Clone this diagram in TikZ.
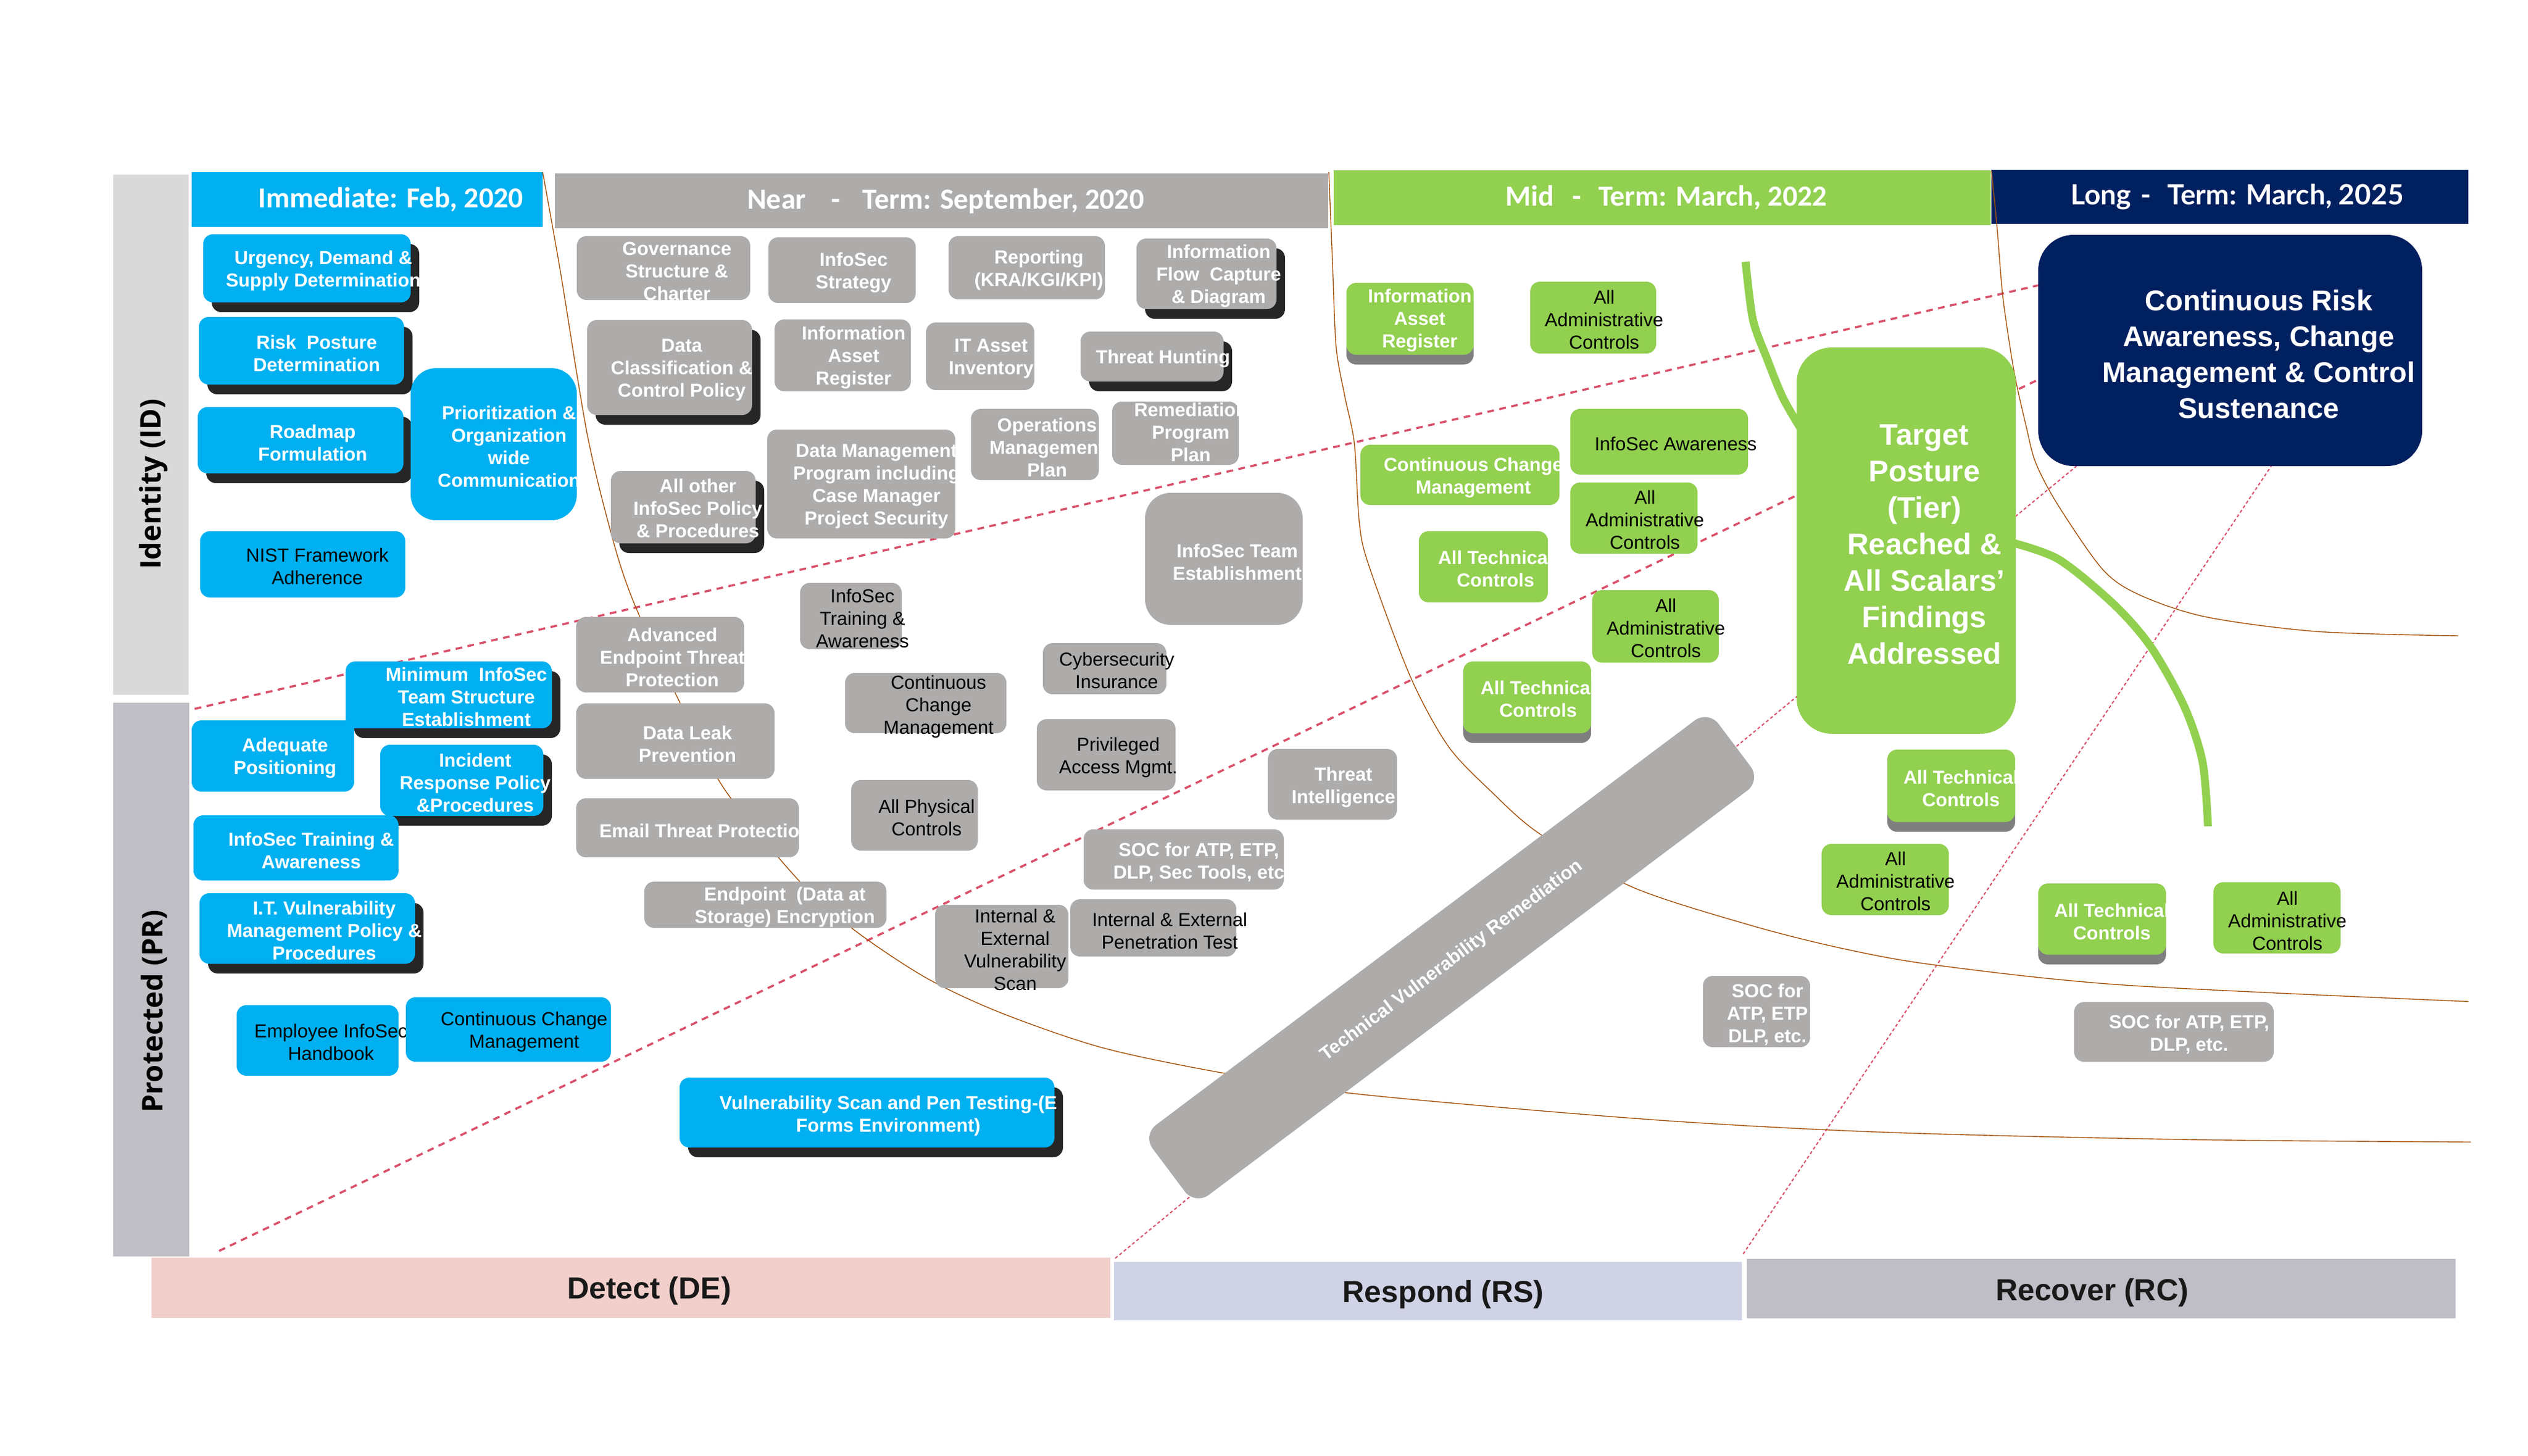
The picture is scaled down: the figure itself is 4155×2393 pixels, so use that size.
\documentclass[tikz,border=0pt]{standalone}
\usepackage{fontspec}
\setmainfont{Liberation Sans}
\newfontfamily\calib{Carlito}
\newfontfamily\latof{Lato}
\newfontfamily\opens{Open Sans}
\usetikzlibrary{calc,shadows}
\definecolor{cyanC}{HTML}{00B0F0}
\definecolor{grayC}{HTML}{AEABAB}
\definecolor{greenC}{HTML}{92D050}
\definecolor{navyC}{HTML}{002060}
\definecolor{idbar}{HTML}{D9D9D9}
\definecolor{prbar}{HTML}{BFBFC5}
\definecolor{debar}{HTML}{F2CFCB}
\definecolor{rsbar}{HTML}{D0D3E6}
\definecolor{rcbar}{HTML}{BFBEC6}
\definecolor{redD}{HTML}{D9506A}
\definecolor{brownL}{HTML}{A5520C}
\definecolor{shg}{HTML}{7F7F7F}
\newcommand\mybox[9]{%
  \node[#2, minimum width={(#5)-(#3)}, minimum height={(#6)-(#4)}] (#1) at ({((#3)+(#5))/2},{((#4)+(#6))/2}) {};
  \node[#7] (#1t) at ($(#1.center)+(#8)$) {#9};
}
\tikzset{
  bx/.style={inner sep=0pt, outer sep=0pt, rounded corners=16pt, draw=none},
  cy/.style={bx, fill=cyanC},
  gr/.style={bx, fill=grayC},
  gn/.style={bx, fill=greenC},
  nv/.style={bx, fill=navyC},
  sbar/.style={inner sep=0pt, outer sep=0pt, draw=none},
  rbig/.style={rounded corners=42pt},
  rhuge/.style={rounded corners=58pt},
  bsh/.style={general shadow={fill=black, fill opacity=0.85, shadow xshift=14pt, shadow yshift=-16pt}},
  gsh/.style={general shadow={fill=shg, shadow yshift=-16pt}},
  wt/.style={inner sep=0pt, align=center, text=white, font=\fontsize{31}{37}\selectfont\bfseries},
  bt/.style={inner sep=0pt, align=center, text=black, font=\fontsize{31}{37}\selectfont},
  wtb/.style={inner sep=0pt, align=center, text=white, font=\fontsize{49}{60}\selectfont\bfseries},
  wtc/.style={inner sep=0pt, align=center, text=white, font=\fontsize{47}{59}\selectfont\bfseries},
  ht/.style={inner sep=0pt, text=white, font=\calib\fontsize{48}{58}\selectfont\bfseries},
  lt/.style={inner sep=0pt, text=white, font=\latof\fontsize{46}{56}\selectfont\bfseries},
  axt/.style={inner sep=0pt, text=black, font=\opens\fontsize{47}{56}\selectfont\bfseries, rotate=90},
  bott/.style={inner sep=0pt, text=black!90, font=\fontsize{50}{60}\selectfont\bfseries},
  dashA/.style={draw=redD, line width=3.5pt, dash pattern=on 11pt off 9pt},
  dashC/.style={draw=redD, line width=2pt, dash pattern=on 5pt off 4pt},
  brw/.style={draw=brownL, line width=1.4pt},
  garc/.style={draw=greenC, line width=13pt},
}
\begin{document}
\begin{tikzpicture}[x=1pt,y=-1pt]
\useasboundingbox (0,0) rectangle (4155,2393);
\fill[white] (0,0) rectangle (4155,2393);

% side bars
\mybox{idb}{sbar,fill=idbar}{186}{287}{310}{1142}{axt}{4,81}{Identity (ID)}
\mybox{prb}{sbar,fill=prbar}{186}{1155}{311}{2065}{axt}{5,52}{Protected (PR)}

% bottom bars
\mybox{deb}{sbar,fill=debar}{249}{2067}{1825}{2166}{bott}{30,5}{Detect (DE)}
\mybox{rsb}{sbar,fill=rsbar}{1831}{2074}{2863}{2170}{bott}{25,6}{Respond (RS)}
\mybox{rcb}{sbar,fill=rcbar}{2871}{2069}{4036}{2167}{bott}{-15,7}{Recover (RC)}

% headers
\mybox{h1}{sbar,fill=cyanC}{315}{283}{892}{373}{ht}{39,0}{Immediate: Feb, 2020}
\mybox{h2}{sbar,fill=grayC}{912}{285}{2183}{375}{ht}{7,0}{Near\hspace{42pt}-\hspace{36pt}Term: September, 2020}
\mybox{h3}{sbar,fill=greenC}{2192}{280}{3272}{370}{ht}{7,0}{Mid\hspace{30pt}-\hspace{28pt}Term: March, 2022}
\mybox{h4}{sbar,fill=navyC}{3273}{279}{4057}{368}{lt}{12,0}{Long\hspace{16pt}-\hspace{26pt}Term: March, 2025}

% dashed guide lines
\coordinate (a1) at (320,1165); \coordinate (a2) at (3350,469);
\coordinate (b1) at (360,2056); \coordinate (b2) at (3350,624);
\coordinate (c1) at (1833,2068); \coordinate (c2) at (3413,766);
\coordinate (d1) at (2865,2061); \coordinate (d2) at (3733,766);
\draw[dashA] (a1) -- (a2);
\draw[dashA] (b1) -- (b2);
\draw[dashC] (c1) -- (c2);
\draw[dashC] (d1) -- (d2);

% brown curves
\draw[brw] plot[smooth] coordinates {(892,283) (920,440) (948,614) (966,718) (987,810) (1018,924) (1050,1010) (1120,1160) (1190,1296) (1310,1444) (1402,1527) (1522,1607) (1646,1665) (1812,1722) (2007,1763) (2231,1798) (2712,1840) (3100,1861) (3600,1873) (4061,1877)};
\draw[brw] plot[smooth] coordinates {(2184,283) (2190,430) (2196,570) (2210,650) (2226,729) (2234,857) (2249,927) (2318,1112) (2380,1226) (2450,1300) (2530,1370) (2683,1458) (2878,1521) (3029,1559) (3180,1586) (3491,1619) (4057,1646)};
\draw[brw] plot[smooth] coordinates {(3273,281) (3282,370) (3291,480) (3302,560) (3313,625) (3330,700) (3346,761) (3383,831) (3456,936) (3517,978) (3626,1014) (3809,1038) (4040,1045)};

% green arcs
\draw[garc] plot[smooth] coordinates {(2869,430) (2881,525) (2904,589) (2930,653) (2960,705)};
\draw[garc] plot[smooth] coordinates {(3300,890) (3383,919) (3474,993) (3535,1063) (3590,1161) (3620,1252) (3629,1358)};

% Identity boxes (immediate)
\mybox{urg}{cy,bsh}{334}{385}{675}{497}{wt}{27,4}{Urgency, Demand \&\\Supply Determination}
\mybox{risk}{cy,bsh}{327}{521}{664}{632}{wt}{25,4}{Risk\ \ Posture\\Determination}
\mybox{road}{cy,bsh}{325}{669}{663}{778}{wt}{20,4}{Roadmap\\Formulation}
\mybox{prio}{cy,rbig}{675}{605}{948}{855}{wt}{25,4}{Prioritization \&\\Organization\\wide\\Communication}
\mybox{nist}{cy}{329}{873}{666}{982}{bt}{24,3}{NIST Framework\\Adherence}

% Protect boxes (immediate)
\mybox{mini}{cy,bsh}{568}{1087}{907}{1197}{wt}{29,3}{Minimum\ \ InfoSec\\Team Structure\\Establishment}
\mybox{adeq}{cy}{315}{1184}{582}{1301}{wt}{20,4}{Adequate\\Positioning}
\mybox{inci}{cy,bsh}{625}{1224}{893}{1341}{wt}{22,4}{Incident\\Response Policy\\\&Procedures}
\mybox{train}{cy}{318}{1340}{655}{1447}{wt}{25,4}{InfoSec Training \&\\Awareness}
\mybox{itv}{cy,bsh}{328}{1468}{682}{1584}{wt}{28,3}{I.T. Vulnerability\\Management Policy \&\\Procedures}
\mybox{empl}{cy}{389}{1652}{655}{1768}{bt}{22,3}{Employee InfoSec\\Handbook}
\mybox{ccma}{cy}{667}{1639}{1004}{1745}{bt}{26,4}{Continuous Change\\Management}
\mybox{vsp}{cy,bsh}{1117}{1771}{1733}{1886}{wt}{35,5}{Vulnerability Scan and Pen Testing-(E\\Forms Environment)}

% Near term boxes
\mybox{gov}{gr}{948}{388}{1233}{493}{wt}{22,5}{Governance\\Structure \&\\Charter}
\mybox{strat}{gr}{1263}{390}{1505}{498}{wt}{19,4}{InfoSec\\Strategy}
\mybox{rep}{gr}{1559}{388}{1816}{492}{wt}{20,4}{Reporting\\(KRA/KGI/KPI)}
\mybox{flow}{gr,bsh}{1868}{392}{2098}{508}{wt}{20,4}{Information\\Flow\ \ Capture\\\& Diagram}
\mybox{dcl}{gr,bsh}{965}{526}{1236}{682}{wt}{20,4}{Data\\Classification \&\\Control Policy}
\mybox{iar}{gr}{1273}{525}{1497}{643}{wt}{18,4}{Information\\Asset\\Register}
\mybox{ita}{gr}{1522}{530}{1700}{641}{wt}{18,4}{IT Asset\\Inventory}
\mybox{hunt}{gr,bsh}{1776}{545}{2011}{627}{wt}{18,4}{Threat Hunting}
\mybox{rem}{gr}{1828}{660}{2036}{764}{wt}{25,-2}{Remediation\\Program\\Plan}
\mybox{ops}{gr}{1596}{672}{1806}{789}{wt}{20,5}{Operations\\Management\\Plan}
\mybox{dmp}{gr}{1261}{706}{1570}{885}{wt}{25,4}{Data Management\\Program including\\Case Manager\\Project Security}
\mybox{oth}{gr,bsh}{1004}{774}{1242}{893}{wt}{24,2}{All other\\InfoSec Policy\\\& Procedures}
\mybox{team}{gr,rbig}{1882}{810}{2141}{1027}{wt}{22,5}{InfoSec Team\\Establishment}
\mybox{trnb}{gr}{1315}{958}{1482}{1067}{bt}{19,4}{InfoSec\\Training \&\\Awareness}
\mybox{aetp}{gr}{947}{1014}{1223}{1138}{wt}{20,4}{Advanced\\Endpoint Threat\\Protection}
\mybox{dlp}{gr}{947}{1156}{1273}{1280}{wt}{20,5}{Data Leak\\Prevention}
\mybox{email}{gr}{947}{1312}{1313}{1409}{wt}{29,5}{Email Threat Protection}
\mybox{enc}{gr}{1059}{1449}{1457}{1525}{wt}{32,4}{Endpoint\ \ (Data at\\Storage) Encryption}
\mybox{ccmb}{gr}{1389}{1106}{1654}{1205}{bt}{21,6}{Continuous\\Change\\Management}
\mybox{phys}{gr}{1399}{1282}{1607}{1398}{bt}{20,4}{All Physical\\Controls}
\mybox{cyb}{gr}{1714}{1057}{1917}{1141}{bt}{20,3}{Cybersecurity\\Insurance}
\mybox{pam}{gr}{1704}{1182}{1932}{1299}{bt}{20,4}{Privileged\\Access Mgmt.}
\mybox{ti}{gr}{2084}{1231}{2296}{1347}{wt}{18,5}{Threat\\Intelligence}
\mybox{soca}{gr}{1781}{1363}{2110}{1462}{wt}{25,5}{SOC for ATP, ETP,\\DLP, Sec Tools, etc}
\mybox{ievs}{gr}{1537}{1487}{1756}{1624}{bt}{22,5}{Internal \&\\External\\Vulnerability\\Scan}
\mybox{iept}{gr}{1759}{1478}{2032}{1572}{bt}{27,5}{Internal \& External\\Penetration Test}

% Mid term boxes
\mybox{iarg}{gn,gsh}{2213}{465}{2422}{583}{wt}{16,3}{Information\\Asset\\Register}
\mybox{adma}{gn}{2515}{463}{2722}{581}{bt}{18,3}{All\\Administrative\\Controls}
\mybox{ccmg}{gn}{2236}{731}{2563}{830}{wt}{22,5}{Continuous Change\\Management}
\mybox{isa}{gn}{2581}{672}{2873}{780}{bt}{27,3}{InfoSec Awareness}
\mybox{admb}{gn}{2581}{793}{2790}{910}{bt}{18,3}{All\\Administrative\\Controls}
\mybox{teca}{gn}{2332}{873}{2544}{990}{wt}{20,3}{All Technical\\Controls}
\mybox{admc}{gn}{2617}{970}{2825}{1089}{bt}{17,3}{All\\Administrative\\Controls}
\mybox{tecb}{gn,gsh}{2405}{1087}{2615}{1205}{wt}{18,3}{All Technical\\Controls}
\mybox{tgt}{gn,rhuge}{2953}{571}{3313}{1206}{wtb}{30,6}{Target\\Posture\\(Tier)\\Reached \&\\All Scalars'\\Findings\\Addressed}

% Long term
\mybox{crs}{nv,rhuge}{3350}{386}{3981}{766}{wtc}{47,6}{Continuous Risk\\Awareness, Change\\Management \& Control\\Sustenance}

% right side boxes
\mybox{tecc}{gn,gsh}{3102}{1232}{3312}{1351}{wt}{16,4}{All Technical\\Controls}
\mybox{admd}{gn}{2994}{1387}{3203}{1504}{bt}{17,3}{All\\Administrative\\Controls}
\mybox{tecd}{gn,gsh}{3350}{1452}{3560}{1569}{wt}{16,4}{All Technical\\Controls}
\mybox{adme}{gn}{3638}{1450}{3847}{1567}{bt}{17,5}{All\\Administrative\\Controls}
\mybox{socb}{gr}{2799}{1604}{2975}{1721}{wt}{18,5}{SOC for\\ATP, ETP\\DLP, etc.}
\mybox{socc}{gr}{3409}{1647}{3737}{1745}{wt}{25,4}{SOC for ATP, ETP,\\DLP, etc.}

% rotated bar
\node[gr, rounded corners=28pt, minimum width=1163, minimum height=144, rotate=36.9] (tvr) at (2386,1574) {};
\node[wt, rotate=36.9] (tvrt) at (2386,1579) {Technical Vulnerability Remediation};
\end{tikzpicture}
\end{document}
